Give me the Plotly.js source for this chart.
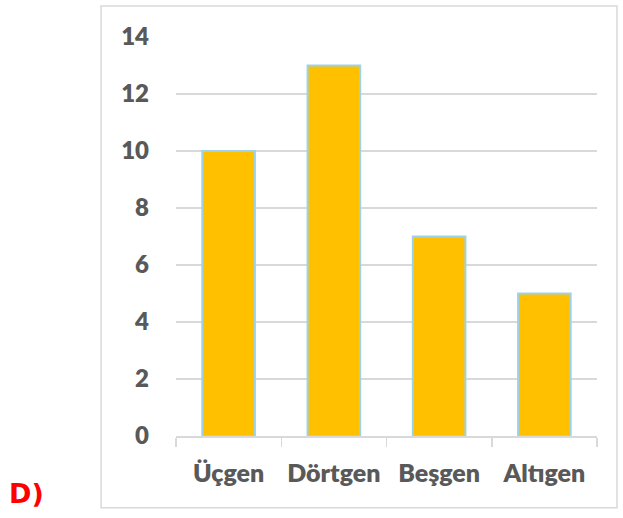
<!DOCTYPE html>
<html>
<head>
<meta charset="utf-8">
<script src="https://cdn.plot.ly/plotly-3.0.1.min.js"></script>
<style>
  html, body { margin: 0; padding: 0; background: #ffffff; }
  #chart { width: 623px; height: 518px; }
</style>
</head>
<body>
<div id="chart"></div>
<script>
const categories = ["Üçgen", "Dörtgen", "Beşgen", "Altıgen"];
const values = [10, 13, 7, 5];
const yTicks = [0, 2, 4, 6, 8, 10, 12, 14];
const panelLabel = "D)";

const trace = {
  type: "bar",
  x: categories,
  y: values,
  marker: { color: "#FFC000", line: { color: "#9DD3E8", width: 2 } },
  hoverinfo: "skip"
};

const layout = {
  width: 623, height: 518,
  margin: { l: 176, r: 26, t: 37, b: 82 },
  paper_bgcolor: "#ffffff",
  plot_bgcolor: "#ffffff",
  bargap: 0.5,
  showlegend: false,
  font: { family: "Lato, sans-serif", color: "#595959" },
  xaxis: {
    type: "category",
    showline: true, linecolor: "#d9d9d9", linewidth: 1.5,
    ticks: "outside", tickson: "boundaries", ticklen: 9, tickcolor: "#d9d9d9", tickwidth: 1.5,
    tickfont: { size: 25, color: "#595959", family: "Lato, sans-serif", weight: 800 },
    ticklabelstandoff: 14,
    showgrid: false, zeroline: false, fixedrange: true
  },
  yaxis: {
    range: [0, 14],
    tickvals: yTicks,
    ticktext: yTicks.map(String),
    showgrid: true, gridcolor: "#d9d9d9", gridwidth: 1.5,
    zeroline: false, showline: false, ticks: "",
    tickfont: { size: 24, color: "#595959", family: "Lato, sans-serif", weight: 800 },
    ticklabelstandoff: 26,
    fixedrange: true
  },
  shapes: [{
    type: "rect", xref: "paper", yref: "paper",
    x0: -0.178, x1: 1.0475, y0: -0.18, y1: 1.0777,
    line: { color: "#d9d9d9", width: 1.5 }, fillcolor: "rgba(0,0,0,0)", layer: "below"
  }],
  annotations: [{
    text: panelLabel, xref: "paper", yref: "paper",
    x: -0.354, y: -0.145, xanchor: "center", yanchor: "middle", showarrow: false,
    font: { size: 27, color: "#ff0000", family: "DejaVu Sans, sans-serif", weight: "bold" }
  }]
};

Plotly.newPlot("chart", [trace], layout, { staticPlot: true, displayModeBar: false });
</script>
</body>
</html>
